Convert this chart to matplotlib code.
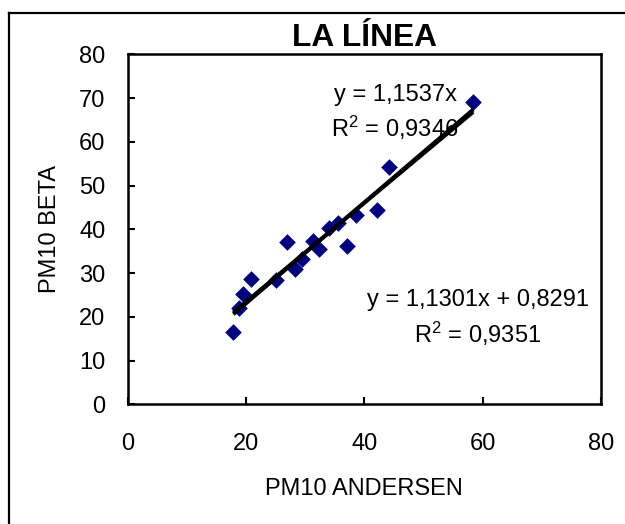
import matplotlib
matplotlib.use("Agg")
import matplotlib.pyplot as plt
from matplotlib.lines import Line2D
import numpy as np

plt.rcParams['font.family'] = ['Liberation Sans', 'DejaVu Sans']
plt.rcParams['mathtext.fontset'] = 'custom'
plt.rcParams['mathtext.rm'] = 'Liberation Sans'
plt.rcParams['mathtext.it'] = 'Liberation Sans'

# Data
andersen = [17.85, 18.8, 19.55, 20.85, 25.0, 26.9, 28.3, 29.5, 31.4, 32.4,
            34.0, 35.5, 37.1, 38.6, 42.2, 44.2, 58.4]
beta = [16.5, 21.9, 25.2, 28.6, 28.4, 37.0, 30.9, 33.1, 37.3, 35.5,
        40.4, 41.5, 36.1, 43.2, 44.3, 54.3, 69.0]

slope0 = 1.1537          # trend through origin
slope1, icpt1 = 1.1301, 0.8291   # linear trend
title = "LA LÍNEA"
xlabel = "PM10 ANDERSEN"
ylabel = "PM10 BETA"
ticks = [0, 20, 40, 60, 80]
yticks = [0, 10, 20, 30, 40, 50, 60, 70, 80]
eq0 = "y = 1,1537x\nR$^{2}$ = 0,9346"
eq1 = "y = 1,1301x + 0,8291\nR$^{2}$ = 0,9351"

W, H = 625, 524
fig = plt.figure(figsize=(W / 100, H / 100), dpi=100)
ax = fig.add_axes([127.7 / W, 1 - 404.3 / H, (601 - 127.7) / W, (404.3 - 54.3) / H])

# outer chart border (left and top visible)
fig.add_artist(Line2D([9 / W, 9 / W], [-0.1, 1 - 13 / H], transform=fig.transFigure,
                      color='black', lw=1.6))
fig.add_artist(Line2D([9 / W, 1.1], [1 - 13 / H, 1 - 13 / H], transform=fig.transFigure,
                      color='black', lw=1.6))

ax.scatter(andersen, beta, marker='D', s=72, color='#000080', zorder=3, linewidths=0)

xs = np.array([min(andersen), max(andersen)])
ax.plot(xs, slope0 * xs, color='black', lw=2.8, zorder=4, solid_capstyle='butt')
ax.plot(xs, slope1 * xs + icpt1, color='black', lw=2.8, zorder=4, solid_capstyle='butt')

ax.set_xlim(0, 80)
ax.set_ylim(0, 80)
ax.set_xticks(ticks)
ax.set_yticks(yticks)
ax.tick_params(direction='in', length=5, width=1.5, labelsize=17)
ax.tick_params(axis='x', pad=21)
ax.tick_params(axis='y', pad=16)
for s in ax.spines.values():
    s.set_linewidth(1.8)

ax.set_title(title, fontsize=22.8, fontweight='bold', pad=6)
ax.set_xlabel(xlabel, fontsize=17, labelpad=16)
ax.set_ylabel(ylabel, fontsize=17, labelpad=13)

ax.text(45.2, 66.6, eq0, fontsize=17, ha='center', va='center', linespacing=1.35, zorder=5)
ax.text(59.2, 19.6, eq1, fontsize=17, ha='center', va='center', linespacing=1.35, zorder=5)

fig.savefig("out.png", dpi=100)
